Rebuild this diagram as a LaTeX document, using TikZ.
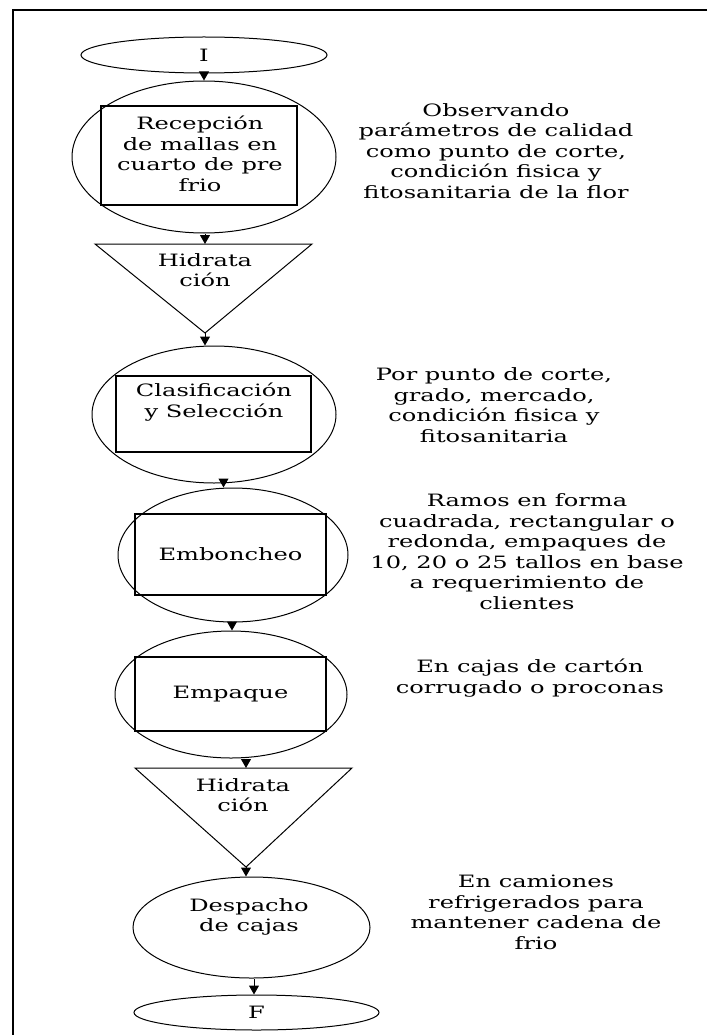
\documentclass[tikz,border=0pt]{standalone}
\usepackage{fontspec}
\setmainfont{DejaVu Serif}[FakeStretch=1.42]
\usetikzlibrary{arrows.meta,shapes.geometric,calc}

\begin{document}
\begin{tikzpicture}[x=1pt,y=-1pt,font=\fontsize{17}{20.5}\selectfont,
 proc/.style={ellipse,draw,line width=1pt,inner sep=0pt},
 box/.style={draw,line width=1.3pt,inner sep=0pt},
 txt/.style={align=center,inner sep=0pt},
 arr/.style={-{Triangle[width=10pt,length=9pt]},line width=1pt}]
\useasboundingbox (0,0) rectangle (707,1035);
\draw[line width=2pt] (707,10) -- (13,10) -- (13,1035);
% flow column
\node[proc,minimum width=246pt,minimum height=36pt] (ini) at (204,55) {I};
\node[proc,minimum width=264pt,minimum height=152pt] (c1) at (204,157) {};
\node[box,minimum width=196pt,minimum height=99pt] (r1) at (199,155.5) {};
\node[txt] (l1) at (200,154) {Recepción\\de mallas en\\cuarto de pre\\frio};
\coordinate (t1l) at (95,244);
\coordinate (t1r) at (312,244);
\coordinate (t1a) at (205,333);
\coordinate (t1top) at (205,244);
\draw[line width=1pt] (t1l) -- (t1r) -- (t1a) -- cycle;
\node[txt] (l2) at (205,270) {Hidrata\\ción};
\node[proc,minimum width=244pt,minimum height=137pt] (c2) at (214,414.5) {};
\node[box,minimum width=195pt,minimum height=76pt] (r2) at (213.5,414) {};
\node[txt] (l3) at (214,402) {Clasificación\\y Selección};
\node[proc,minimum width=230pt,minimum height=134pt] (c3) at (233,555) {};
\node[box,minimum width=191pt,minimum height=81pt] (r3) at (230.5,554.5) {Emboncheo};
\node[proc,minimum width=232pt,minimum height=127pt] (c4) at (231,694.5) {};
\node[box,minimum width=191pt,minimum height=74pt] (r4) at (230.5,694) {Empaque};
\coordinate (t2l) at (135,768);
\coordinate (t2r) at (352,768);
\coordinate (t2a) at (246,867);
\coordinate (t2top) at (246,768);
\draw[line width=1pt] (t2l) -- (t2r) -- (t2a) -- cycle;
\node[txt] (l4) at (243,795) {Hidrata\\ción};
\node[proc,minimum width=237pt,minimum height=101pt] (c5) at (251.5,927.5) {};
\node[txt] (l5) at (249,917) {Despacho\\de cajas};
\node[proc,minimum width=245pt,minimum height=35pt] (fin) at (256.5,1012.5) {F};
% notes
\node[txt] (n1) at (496,151) {Observando\\parámetros de calidad\\como punto de corte,\\condición fisica y\\fitosanitaria de la flor};
\node[txt] (n2) at (494,405) {Por punto de corte,\\grado, mercado,\\condición fisica y\\fitosanitaria};
\node[txt] (n3) at (527,551.5) {Ramos en forma\\cuadrada, rectangular o\\redonda, empaques de\\10, 20 o 25 tallos en base\\a requerimiento de\\clientes};
\node[txt] (n4) at (530,678) {En cajas de cartón\\corrugado o proconas};
\node[txt] (n5) at (536,912.5) {En camiones\\refrigerados para\\mantener cadena de\\frio};
% arrows
\foreach \a/\b in {ini/c1,c2/c3,c3/c4,c5/fin}{
 \path ($(\a.south)!.5!(\b.north)$) coordinate (m);
 \draw[arr] (m |- \a.south) -- (m |- \b.north);
}
\draw[arr] (t1top |- c1.south) -- (t1top);
\draw[arr] (t1a) -- (t1a |- c2.north);
\draw[arr] (t2top |- c4.south) -- (t2top);
\draw[arr] (t2a) -- (t2a |- c5.north);
\end{tikzpicture}
\end{document}
